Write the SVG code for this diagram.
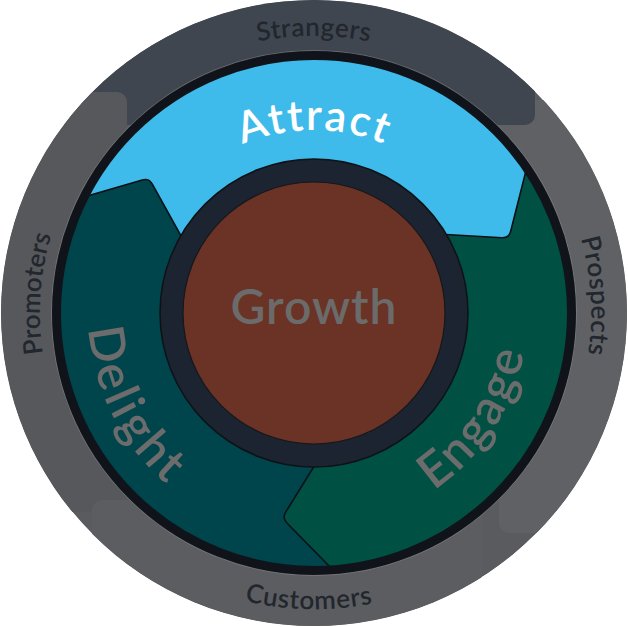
<svg xmlns="http://www.w3.org/2000/svg" xmlns:xlink="http://www.w3.org/1999/xlink" width="628" height="627" viewBox="0 0 628 627">
  <style>
    .lbl-outer { font-family: Lato, "Liberation Sans", sans-serif; font-weight: 600; font-size: 26px; fill: #22272e; }
    .lbl-stage { font-family: Lato, "Liberation Sans", sans-serif; font-weight: 600; font-size: 49px; fill: #6c6c6c; }
    .lbl-main { font-family: Lato, "Liberation Sans", sans-serif; font-weight: 600; }
    .seg-edge { stroke: #0d1014; stroke-width: 1.6; stroke-linejoin: round; }
  </style>
  <defs>
    <clipPath id="clip-outer"><circle cx="314" cy="313" r="313"/></clipPath>
    <clipPath id="clip-mid"><circle cx="314" cy="313" r="258"/></clipPath>
    <path id="arc-strangers" d="M 41.2 264.9 A 277 277 0 0 1 586.8 264.9"/>
    <path id="arc-prospects" d="M 345.4 37.8 A 277 277 0 0 1 378.7 582.4"/>
    <path id="arc-promoters" d="M 247.7 578.9 A 274 274 0 0 1 285.4 40.5"/>
    <path id="arc-customers" d="M 21.6 359.3 A 296 296 0 0 0 604.6 369.5"/>
    <path id="arc-attract" d="M 133.8 281.2 A 183 183 0 0 1 494.2 281.2"/>
    <path id="arc-delight" d="M 178 132.5 A 226 226 0 0 0 380.1 529.1"/>
    <path id="arc-engage" d="M 230.4 510 A 214 214 0 0 0 459.9 156.5"/>
  </defs>

  <!-- Outer ring with its four segments -->
  <g id="ring-outer">
    <g clip-path="url(#clip-outer)">
      <circle cx="314" cy="313" r="313" fill="#5a5b5f"/>
      <rect x="499" y="100" width="160" height="433" rx="10" fill="#5f6165"/>
      <rect x="-20" y="-20" width="555" height="145" rx="10" fill="#40464f"/>
      <rect x="-20" y="92" width="147" height="420" rx="10" fill="#56585c"/>
      <rect x="92" y="500" width="390" height="160" rx="10" fill="#5c5d61"/>
    </g>
  </g>
  <g id="label-strangers"><text class="lbl-outer" letter-spacing="0.5"><textPath xlink:href="#arc-strangers" href="#arc-strangers" startOffset="50%" text-anchor="middle">Strangers</textPath></text></g>
  <g id="label-prospects"><text class="lbl-outer" letter-spacing="0.5"><textPath xlink:href="#arc-prospects" href="#arc-prospects" startOffset="50%" text-anchor="middle">Prospects</textPath></text></g>
  <g id="label-promoters"><text class="lbl-outer" letter-spacing="0"><textPath xlink:href="#arc-promoters" href="#arc-promoters" startOffset="50%" text-anchor="middle">Promoters</textPath></text></g>
  <g id="label-customers"><text class="lbl-outer" letter-spacing="0.7"><textPath xlink:href="#arc-customers" href="#arc-customers" startOffset="50%" text-anchor="middle">Customers</textPath></text></g>

  <!-- Middle ring: three stages -->
  <g clip-path="url(#clip-mid)">
    <g id="stage-delight">
      <circle cx="314" cy="313" r="258" fill="#00444c"/>
    </g>
    <g id="stage-engage">
      <path class="seg-edge" fill="#005143" d="M 314 313 L 640 -10 L 640 640 L 350.6 588 L 286.9 523 Q 282 518 285.7 512.1 L 330.4 440 Z"/>
    </g>
    <g id="stage-attract">
      <path class="seg-edge" fill="#3ebbea" d="M 60 204 L 142.3 180 Q 149 178 152.3 184.2 L 200 270 L 420 233 L 502 237.7 Q 509 238 510.7 231.2 L 535 135 L 535 -5 L 60 -5 Z"/>
    </g>
  </g>
  <circle cx="314" cy="313" r="262.6" fill="none" stroke="#8a8c90" stroke-width="0.8" opacity="0.6"/>
  <circle cx="314" cy="313" r="257.5" fill="none" stroke="#10141a" stroke-width="9"/>

  <g id="label-attract"><text class="lbl-main" font-size="43" fill="#ffffff" letter-spacing="2"><textPath xlink:href="#arc-attract" href="#arc-attract" startOffset="50%" text-anchor="middle">Attract</textPath></text></g>
  <g id="label-delight"><text class="lbl-stage" letter-spacing="3.5"><textPath xlink:href="#arc-delight" href="#arc-delight" startOffset="50%" text-anchor="middle">Delight</textPath></text></g>
  <g id="label-engage"><text class="lbl-stage" letter-spacing="2.5"><textPath xlink:href="#arc-engage" href="#arc-engage" startOffset="50%" text-anchor="middle">Engage</textPath></text></g>

  <!-- Center -->
  <g id="center-growth">
    <circle cx="314" cy="313" r="154" fill="#1b2430" stroke="#0e1216" stroke-width="1.5"/>
    <circle cx="314" cy="313" r="131" fill="#6a3325" stroke="#15181c" stroke-width="1.2"/>
    <text class="lbl-main" x="314" y="324" font-size="48" fill="#6b6b6b" letter-spacing="1" text-anchor="middle">Growth</text>
  </g>
</svg>
